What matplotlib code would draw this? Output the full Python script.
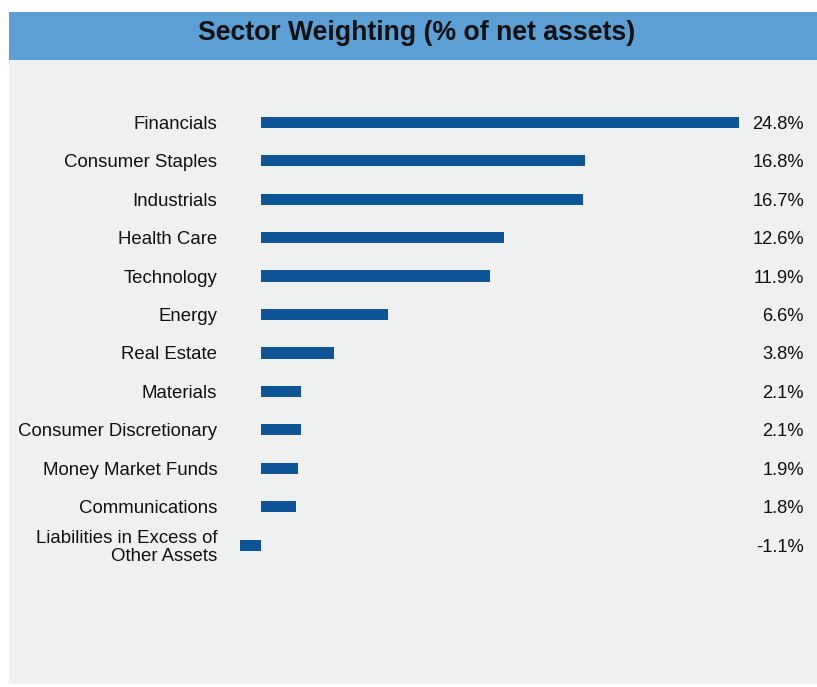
import matplotlib
matplotlib.use("Agg")
import matplotlib.pyplot as plt
from matplotlib.patches import Rectangle
import matplotlib.transforms as mtransforms

plt.rcParams['font.family'] = ['Liberation Sans', 'DejaVu Sans']

categories = ["Financials", "Consumer Staples", "Industrials", "Health Care",
              "Technology", "Energy", "Real Estate", "Materials",
              "Consumer Discretionary", "Money Market Funds", "Communications",
              "Liabilities in Excess of\nOther Assets"]
values = [24.8, 16.8, 16.7, 12.6, 11.9, 6.6, 3.8, 2.1, 2.1, 1.9, 1.8, -1.1]
value_labels = ["24.8%", "16.8%", "16.7%", "12.6%", "11.9%", "6.6%", "3.8%",
                "2.1%", "2.1%", "1.9%", "1.8%", "-1.1%"]
title = "Sector Weighting (% of net assets)"

W, H = 817, 687
fig = plt.figure(figsize=(W / 100, H / 100), dpi=100)
fig.patch.set_facecolor("white")

def fx(px):
    return px / W

def fy(py):
    return 1 - py / H

# panel background
fig.patches.append(Rectangle((fx(9), fy(684)), fx(W) - fx(9), fy(60) - fy(684),
                             transform=fig.transFigure, facecolor="#eff1f1",
                             edgecolor="none", zorder=-10))
# header
fig.patches.append(Rectangle((fx(9), fy(60)), fx(W) - fx(9), fy(12) - fy(60),
                             transform=fig.transFigure, facecolor="#5b9fd4",
                             edgecolor="none", zorder=-10))
fig.text(fx(417), fy(33), title, ha="center", va="center", fontsize=19.2,
         fontweight="bold", color="#111111")

# axes geometry
zero_px = 261
k = (739 - 261) / 24.8
L, R = 220, 800
top, bot = 103, 103 + 38.45 * 12
ax = fig.add_axes([fx(L), fy(bot), fx(R) - fx(L), fy(top) - fy(bot)])
ax.set_facecolor("none")
ax.set_xlim((L - zero_px) / k, (R - zero_px) / k)
n = len(categories)
ax.set_ylim(n - 0.5, -0.5)

pos = list(range(n))
ax.barh(pos, values, height=0.29, color="#0d5597", zorder=2)
ax.set_yticks(pos)
ax.set_yticklabels(categories, fontsize=13.4, color="#111111", linespacing=1.08)
ax.tick_params(axis="y", length=0, pad=2)
ax.set_xticks([])
for s in ax.spines.values():
    s.set_visible(False)

trans = mtransforms.blended_transform_factory(fig.transFigure, ax.transData)
for p, lab in zip(pos, value_labels):
    ax.text(fx(804), p, lab, transform=trans, ha="right", va="center_baseline",
            fontsize=13.2, color="#111111")

fig.savefig("out.png", dpi=100, facecolor=fig.get_facecolor())
